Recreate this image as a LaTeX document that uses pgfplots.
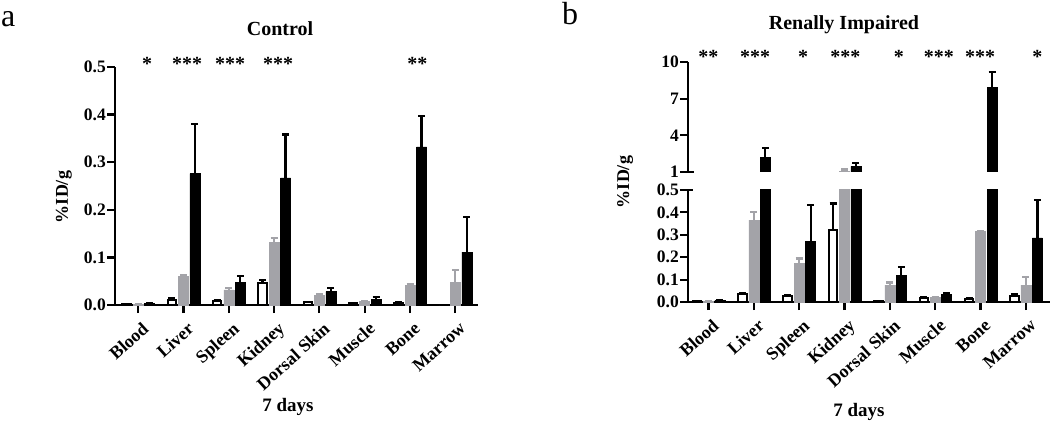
\documentclass[border=0pt]{standalone}
\usepackage{pgfplots}
\usepackage{pgfplotstable}
\pgfplotsset{compat=1.18}
\usepackage{fontspec}
\setmainfont{Liberation Serif}
\definecolor{bargray}{RGB}{163,163,168}

% Control, 7 days: white / gray / black bars with positive SD
\pgfplotstableread{
x w we g ge b be
0 0.002 0 0.002 0 0.003 0
1 0.010 0.004 0.060 0.002 0.276 0.105
2 0.008 0.003 0.032 0.004 0.048 0.013
3 0.046 0.006 0.132 0.008 0.267 0.091
4 0.006 0.001 0.021 0.002 0.028 0.007
5 0.004 0.001 0.007 0.002 0.012 0.004
6 0.005 0.001 0.042 0.002 0.332 0.065
7 0.000 0 0.048 0.025 0.111 0.074
}\ctl

% Renally impaired, 7 days
\pgfplotstableread{
x w we g ge b be
0 0.004 0 0.004 0 0.008 0.001
1 0.035 0.003 0.365 0.035 2.20 0.74
2 0.028 0.005 0.172 0.022 0.272 0.162
3 0.320 0.120 1.10 0.10 1.45 0.30
4 0.006 0 0.075 0.012 0.118 0.040
5 0.018 0.003 0.022 0.002 0.035 0.005
6 0.014 0.002 0.315 0.003 7.95 1.20
7 0.028 0.006 0.075 0.035 0.286 0.170
}\ren

\tikzset{sigstar/.style={font=\fontsize{20}{20}\selectfont\bfseries, anchor=base, inner sep=0pt}}

\pgfplotsset{
  prism/.style={
    scale only axis,
    clip mode=individual,
    xmin=-0.5, xmax=7.5,
    xtick={0,...,7},
    tick style={black, line width=2.2pt},
    major tick length=8pt,
    tick align=outside,
    axis line style={line width=2.6pt},
    yticklabel style={font=\fontsize{17.5}{17.5}\selectfont\bfseries, inner sep=1pt},
    xticklabel style={font=\fontsize{18}{18}\selectfont\bfseries, rotate=42, anchor=north east, inner sep=0pt, yshift=-8pt, xshift=-3pt},
    /pgf/number format/assume math mode=true,
  },
  lowaxis/.style={
    axis x line*=bottom, axis y line*=left,
    axis line style={-},
    xticklabels={Blood,Liver,Spleen,Kidney,Dorsal Skin,Muscle,Bone,Marrow},
  },
  errs/.style={error bars/.cd, y dir=plus, y explicit,
    error bar style={line width=2.2pt, #1},
    error mark options={rotate=90, line width=2.2pt, mark size=3.5pt, #1}},
  wbar/.style={ybar, bar width=8.5pt, bar shift=0pt, fill=white, draw=black, line width=2pt, errs=black},
  gbar/.style={ybar, bar width=10pt, bar shift=0pt, fill=bargray, draw=bargray, line width=0.5pt, errs=bargray},
  bbar/.style={ybar, bar width=10pt, bar shift=0pt, fill=black, draw=black, line width=0.5pt, errs=black},
}

\begin{document}
\begin{tikzpicture}
\path[use as bounding box] (0pt,0pt) rectangle (1050pt,426pt);

% ---------------- panel a ----------------
\begin{axis}[prism, lowaxis,
  at={(115pt,121pt)}, anchor=south west,
  width=363pt, height=238pt,
  xmin=-0.51, xmax=7.5,
  ymin=0, ymax=0.5, ytick={0,0.1,...,0.5},
  yticklabel style={/pgf/number format/.cd, fixed, fixed zerofill, precision=1},
]
\addplot[wbar] table[x expr=\thisrow{x}-0.254, y=w, y error=we] {\ctl};
\addplot[gbar] table[x=x, y=g, y error=ge] {\ctl};
\addplot[bbar] table[x expr=\thisrow{x}+0.254, y=b, y error=be] {\ctl};
\node[sigstar] at (axis cs:0.2,0.492) {*};
\node[sigstar] at (axis cs:1.08,0.492) {***};
\node[sigstar] at (axis cs:2.03,0.492) {***};
\node[sigstar] at (axis cs:3.09,0.492) {***};
\node[sigstar] at (axis cs:6.16,0.492) {**};
\end{axis}

% ---------------- panel b, lower ----------------
\begin{axis}[prism, lowaxis,
  at={(688pt,124pt)}, anchor=south west,
  width=362pt, height=112pt,
  xmin=-0.45, xmax=7.53,
  ymin=0, ymax=0.5, ytick={0,0.1,...,0.5},
  yticklabel style={/pgf/number format/.cd, fixed, fixed zerofill, precision=1},
]
\addplot[wbar] table[x expr=\thisrow{x}-0.253, y=w, y error=we] {\ren};
\addplot[gbar] table[x=x, y=g, y error=ge] {\ren};
\addplot[bbar] table[x expr=\thisrow{x}+0.253, y=b, y error=be] {\ren};
\draw[line width=2.2pt] ([xshift=-8pt]rel axis cs:0,1) -- ([xshift=5pt]rel axis cs:0,1);
\end{axis}

% ---------------- panel b, upper ----------------
\begin{axis}[prism,
  at={(688pt,254pt)}, anchor=south west,
  width=362pt, height=110pt,
  xmin=-0.45, xmax=7.53,
  axis x line=none, axis y line*=left, axis line style={-},
  xticklabels={},
  ymin=1, ymax=10, ytick={1,4,7,10},
  restrict y to domain=1:100,
]
\addplot[wbar] table[x expr=\thisrow{x}-0.253, y=w, y error=we] {\ren};
\addplot[gbar] table[x=x, y=g, y error=ge] {\ren};
\addplot[bbar] table[x expr=\thisrow{x}+0.253, y=b, y error=be] {\ren};
\draw[line width=2.2pt] (rel axis cs:0,0) -- ([xshift=6pt]rel axis cs:0,0);
\node[sigstar] at (axis cs:0,9.84) {**};
\node[sigstar] at (axis cs:1.03,9.84) {***};
\node[sigstar] at (axis cs:2.09,9.84) {*};
\node[sigstar] at (axis cs:3.02,9.84) {***};
\node[sigstar] at (axis cs:4.2,9.84) {*};
\node[sigstar] at (axis cs:5.08,9.84) {***};
\node[sigstar] at (axis cs:5.99,9.84) {***};
\node[sigstar] at (axis cs:7.25,9.84) {*};
\end{axis}

% ---------------- texts ----------------
\node[anchor=base west, font=\fontsize{32}{32}\selectfont, inner sep=0pt] at (1pt,399pt) {a};
\node[anchor=base west, font=\fontsize{32}{32}\selectfont, inner sep=0pt] at (562pt,401pt) {b};
\node[font=\fontsize{20}{20}\selectfont\bfseries] at (280pt,397pt) {Control};
\node[font=\fontsize{20}{20}\selectfont\bfseries] at (844pt,401pt) {Renally Impaired};
\node[font=\fontsize{18}{18}\selectfont\bfseries, rotate=90] at (64pt,229pt) {\%ID/g};
\node[font=\fontsize{18}{18}\selectfont\bfseries, rotate=90] at (625pt,244pt) {\%ID/g};
\node[font=\fontsize{19}{19}\selectfont\bfseries] at (288pt,19pt) {7 days};
\node[font=\fontsize{19}{19}\selectfont\bfseries] at (859pt,14pt) {7 days};
\end{tikzpicture}
\end{document}
